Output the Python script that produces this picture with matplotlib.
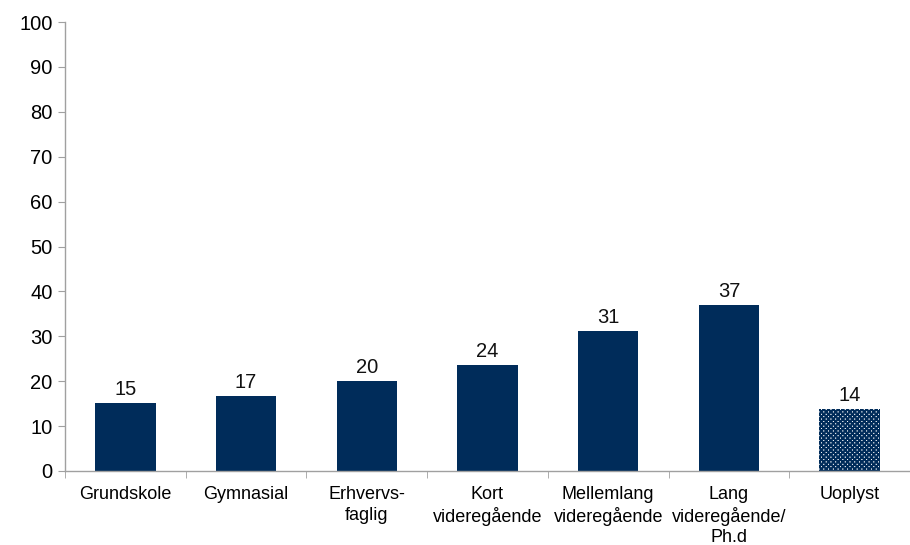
import matplotlib
matplotlib.use("Agg")
import matplotlib.pyplot as plt
import numpy as np

categories = ["Grundskole", "Gymnasial", "Erhvervs-\nfaglig", "Kort\nvideregående",
              "Mellemlang\nvideregående", "Lang\nvideregående/\nPh.d", "Uoplyst"]
values = [15.2, 16.6, 20.1, 23.6, 31.2, 37.0, 13.8]
labels = ["15", "17", "20", "24", "31", "37", "14"]
yticks = [0, 10, 20, 30, 40, 50, 60, 70, 80, 90, 100]

navy = "#002C5A"
plt.rcParams['font.family'] = ['Liberation Sans', 'DejaVu Sans']

fig = plt.figure(figsize=(9.1, 5.45), dpi=100)
ax = fig.add_axes([0.0714, 0.1358, 0.9286, 0.8238])

x = np.arange(len(categories))
for i, v in enumerate(values):
    if categories[i] == "Uoplyst":
        plt.rcParams['hatch.linewidth'] = 1.5
        ax.bar(x[i], v, width=0.5, color="white", edgecolor=navy, hatch="xxxxxxx", linewidth=0)
    else:
        ax.bar(x[i], v, width=0.5, color=navy)
    ax.text(x[i], v + 0.9, labels[i], ha="center", va="bottom", fontsize=14.5, color="#111111")

ax.set_xlim(-0.5, len(categories) - 0.5)
ax.set_ylim(0, 100)
ax.set_yticks(yticks)
ax.tick_params(axis='y', labelsize=14.5, length=5, color="#A0A0A0", direction='out', pad=4)
ax.set_xticks(x)
ax.set_xticklabels(categories, fontsize=13, linespacing=1.25)
ax.tick_params(axis='x', length=0, pad=11)
ax.set_xticks(np.arange(-0.5, len(categories), 1.0), minor=True)
ax.tick_params(axis='x', which='minor', length=5, color="#A0A0A0")
for s in ["top", "right"]:
    ax.spines[s].set_visible(False)
for s in ["left", "bottom"]:
    ax.spines[s].set_color("#A0A0A0")
    ax.spines[s].set_linewidth(1.0)

fig.savefig("out.png", dpi=100)
